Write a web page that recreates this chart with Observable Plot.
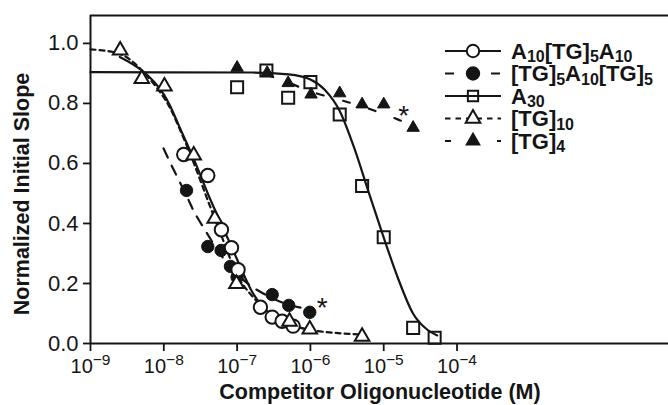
<!DOCTYPE html>
<html><head><meta charset="utf-8">
<script src="https://cdn.jsdelivr.net/npm/d3@7"></script>
<script src="https://cdn.jsdelivr.net/npm/@observablehq/plot@0.6"></script>
<style>
html,body{margin:0;padding:0;background:#fff;}
#chart svg{display:block;}
</style></head><body><div id="chart"></div>
<script>
// ---------- axes ----------
const xTicks = [1e-9, 1e-8, 1e-7, 1e-6, 1e-5, 1e-4];
const yTicks = [0, 0.2, 0.4, 0.6, 0.8, 1.0];
const xMax = 7.67e-2;   // right edge of the (cropped) panel
const yMax = 1.093;     // top of the frame
const xTitle = "Competitor Oligonucleotide (M)";
const yTitle = "Normalized Initial Slope";

// ---------- series (concentration M, normalized initial slope) ----------
const seriesNames = ["A_{10}[TG]_{5}A_{10}", "[TG]_{5}A_{10}[TG]_{5}", "A_{30}", "[TG]_{10}", "[TG]_{4}"];

const a10tg5a10X = [1.87e-8, 3.98e-8, 6.11e-8, 8.38e-8, 1.03e-7, 2.08e-7, 3.01e-7, 4.11e-7, 5.81e-7];
const a10tg5a10Y = [0.630, 0.560, 0.379, 0.319, 0.246, 0.121, 0.088, 0.074, 0.058];

const tg5a10tg5X = [2.04e-8, 3.98e-8, 6.05e-8, 8.11e-8, 1.0e-7, 3.01e-7, 5.06e-7, 9.8e-7];
const tg5a10tg5Y = [0.510, 0.323, 0.310, 0.257, 0.221, 0.163, 0.127, 0.104];

const a30X = [1.0e-7, 2.51e-7, 4.97e-7, 1.0e-6, 2.51e-6, 5.07e-6, 1.0e-5, 2.52e-5, 4.95e-5];
const a30Y = [0.854, 0.910, 0.819, 0.871, 0.763, 0.525, 0.354, 0.052, 0.019];

const tg10X = [2.54e-9, 5.01e-9, 1.02e-8, 2.56e-8, 4.95e-8, 9.8e-8, 5.18e-7, 9.8e-7, 5.07e-6];
const tg10Y = [0.977, 0.882, 0.857, 0.627, 0.416, 0.199, 0.073, 0.047, 0.023];

const tg4X = [1.0e-7, 2.57e-7, 4.97e-7, 1.02e-6, 2.51e-6, 5.07e-6, 1.0e-5, 2.52e-5];
const tg4Y = [0.919, 0.902, 0.868, 0.830, 0.834, 0.797, 0.797, 0.719];

// ---------- fitted curves ----------
const a10tg5a10FitX = [2.51e-9, 5.01e-9, 1e-8, 1.58e-8, 2.51e-8, 3.98e-8, 6.31e-8, 1e-7, 1.58e-7, 2.51e-7, 3.98e-7, 6.03e-7];
const a10tg5a10FitY = [0.955, 0.91, 0.83, 0.73, 0.62, 0.50, 0.39, 0.28, 0.175, 0.11, 0.075, 0.055];

const tg5a10tg5FitX = [9.9e-9, 1.44e-8, 2.04e-8, 2.62e-8, 3.82e-8, 5.93e-8, 9.48e-8, 1.52e-7, 2.43e-7, 4.56e-7, 1.0e-6];
const tg5a10tg5FitY = [0.65, 0.567, 0.493, 0.437, 0.37, 0.297, 0.237, 0.193, 0.163, 0.133, 0.113];

const a30FitX = [1e-9, 1.58e-7, 5.01e-7, 1e-6, 1.58e-6, 2.51e-6, 3.98e-6, 6.31e-6, 1e-5, 1.58e-5, 2.51e-5, 3.98e-5, 5.37e-5];
const a30FitY = [0.904, 0.903, 0.897, 0.88, 0.845, 0.775, 0.65, 0.50, 0.353, 0.215, 0.10, 0.045, 0.027];

const tg10FitX = [1e-9, 2.51e-9, 5.01e-9, 1e-8, 1.58e-8, 2.51e-8, 3.98e-8, 6.31e-8, 1e-7, 1.58e-7, 2.51e-7, 3.98e-7, 1e-6, 5.01e-6];
const tg10FitY = [0.98, 0.965, 0.91, 0.82, 0.725, 0.607, 0.477, 0.35, 0.23, 0.16, 0.11, 0.078, 0.045, 0.03];

const tg4FitX = [2.51e-7, 5.01e-7, 1e-6, 2.51e-6, 6.31e-6, 1.58e-5, 2.51e-5];
const tg4FitY = [0.895, 0.87, 0.84, 0.812, 0.782, 0.746, 0.725];

// asterisks
const starX = [1.45e-6, 1.87e-5];
const starY = [0.138, 0.777];

// ---------- styles ----------
const ink = "#151515";
const FONT = "Liberation Sans, Arial, Helvetica, sans-serif";
const dashTG5 = "10,9";
const dashTG10 = "5,4";
const dashTG4 = "7,20";
const lw = 2.2;

const pts = (xs, ys) => xs.map((x, i) => ({x, y: ys[i]}));

const chart = Plot.plot({
  width: 668, height: 405,
  marginLeft: 90, marginRight: 0, marginTop: 15, marginBottom: 62,
  style: {fontFamily: FONT, fontSize: "22px", color: ink, background: "white", overflow: "visible"},
  x: {type: "log", domain: [1e-9, xMax], ticks: xTicks, tickSize: 8, tickPadding: 7,
      tickFormat: d => "10|\u2212" + Math.abs(Math.round(Math.log10(d))), label: null},
  y: {domain: [0, yMax], ticks: yTicks, tickSize: 7, tickPadding: 5, tickFormat: d3.format(".1f"), label: null},
  marks: [
    Plot.ruleY([0], {stroke: ink, strokeWidth: 2}),
    Plot.ruleY([yMax], {stroke: ink, strokeWidth: 2}),
    Plot.ruleX([1e-9], {stroke: ink, strokeWidth: 2}),
    // fits
    Plot.line(pts(a30FitX, a30FitY), {x: "x", y: "y", curve: "monotone-x", stroke: ink, strokeWidth: lw}),
    Plot.line(pts(tg4FitX, tg4FitY), {x: "x", y: "y", curve: "natural", stroke: ink, strokeWidth: lw, strokeDasharray: dashTG4}),
    Plot.line(pts(tg10FitX, tg10FitY), {x: "x", y: "y", curve: "natural", stroke: ink, strokeWidth: lw, strokeDasharray: dashTG10}),
    Plot.line(pts(tg5a10tg5FitX, tg5a10tg5FitY), {x: "x", y: "y", curve: "natural", stroke: ink, strokeWidth: lw, strokeDasharray: dashTG5}),
    Plot.line(pts(a10tg5a10FitX, a10tg5a10FitY), {x: "x", y: "y", curve: "natural", stroke: ink, strokeWidth: lw}),
    // data
    Plot.dot(pts(tg5a10tg5X, tg5a10tg5Y), {x: "x", y: "y", symbol: "circle", r: 6.2, fill: ink, stroke: ink, strokeWidth: 1}),
    Plot.dot(pts(a10tg5a10X, a10tg5a10Y), {x: "x", y: "y", symbol: "circle", r: 6.7, fill: "white", stroke: ink, strokeWidth: 2}),
    Plot.dot(pts(tg10X, tg10Y), {x: "x", y: "y", symbol: "triangle", r: 5.4, fill: "white", stroke: ink, strokeWidth: 2}),
    Plot.dot(pts(a30X, a30Y), {x: "x", y: "y", symbol: "square", r: 6.8, fill: "none", stroke: ink, strokeWidth: 2}),
    Plot.dot(pts(tg4X, tg4Y), {x: "x", y: "y", symbol: "triangle", r: 4.6, fill: ink, stroke: ink, strokeWidth: 1}),
    Plot.text(pts(starX, starY), {x: "x", y: "y", text: () => "*", fontSize: 28, fill: ink, dy: 6})
  ]
});
document.getElementById("chart").appendChild(chart);

const root = d3.select(chart);
// superscript exponents on x tick labels
root.selectAll('[aria-label="x-axis tick label"] text, [aria-label="x-axis"] .tick text').each(function () {
  const t = d3.select(this);
  const s = t.text();
  if (!s.includes("|")) return;
  const [b, e] = s.split("|");
  t.text(null).attr("font-size", "20px");
  t.append("tspan").text(b);
  t.append("tspan").attr("dy", "-0.5em").attr("font-size", "15.5px").text(e);
});
root.selectAll('[aria-label="x-axis tick"] path, [aria-label="y-axis tick"] path, .tick line').attr("stroke-width", 1.8).attr("stroke", ink);

// axis titles
root.append("text").attr("x", 380).attr("y", 399).attr("text-anchor", "middle")
  .attr("font-family", FONT).attr("font-weight", "bold").attr("font-size", 21.5).attr("fill", ink).text(xTitle);
root.append("text").attr("transform", "translate(29,194) rotate(-90)").attr("text-anchor", "middle")
  .attr("font-family", FONT).attr("font-weight", "bold").attr("font-size", 21.5).attr("fill", ink).text(yTitle);

// legend
const legendStyles = [
  {dash: null, sym: d3.symbolCircle, r: 6.2, fill: "white"},
  {dash: "9,37", sym: d3.symbolCircle, r: 6.2, fill: ink},
  {dash: null, sym: d3.symbolSquare, r: 5.8, fill: "none"},
  {dash: "5.5,5", sym: d3.symbolTriangle, r: 5.4, fill: "white"},
  {dash: "6,46", sym: d3.symbolTriangle, r: 4.6, fill: ink}
];
const legRowY = [51, 73.5, 96, 118.5, 141];
const lg = root.append("g").attr("font-family", FONT).attr("font-weight", "bold").attr("fill", ink).attr("text-anchor", "start");
seriesNames.forEach((name, i) => {
  const st = legendStyles[i], cy = legRowY[i];
  lg.append("line").attr("x1", 445).attr("x2", 501).attr("y1", cy).attr("y2", cy)
    .attr("stroke", ink).attr("stroke-width", lw).attr("stroke-dasharray", st.dash);
  lg.append("path").attr("d", d3.symbol(st.sym, st.r * st.r * Math.PI)())
    .attr("transform", `translate(473,${cy})`).attr("fill", st.fill).attr("stroke", ink).attr("stroke-width", 2);
  const t = lg.append("text").attr("x", 511).attr("y", cy + 7.5).attr("font-size", 22).attr("text-anchor", "start");
  const parts = name.split(/_\{(\d+)\}/);
  parts.forEach((p, j) => {
    if (!p) return;
    if (j % 2 === 1) t.append("tspan").attr("font-size", 16).attr("dy", 3.5).text(p);
    else {
      const ts = t.append("tspan").text(p);
      if (j > 0) ts.attr("dy", -3.5);
    }
  });
});
</script></body></html>
